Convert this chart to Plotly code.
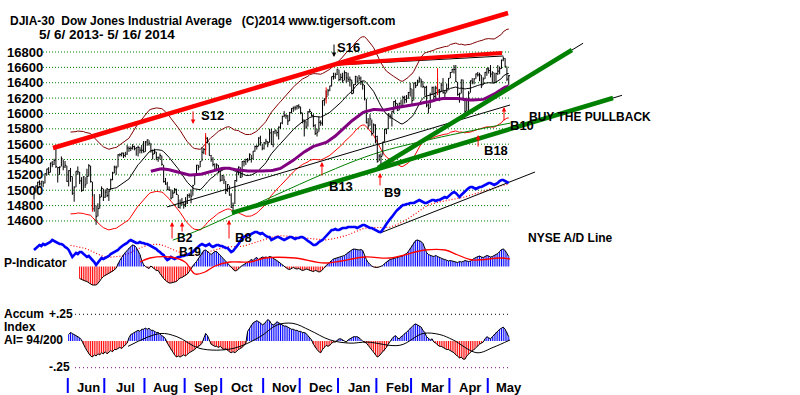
import numpy as np
import pandas as pd
import plotly.graph_objects as go

# ---------------- calendar ----------------
HOLIDAYS = ["2013-05-27", "2013-07-04", "2013-09-02", "2013-11-28", "2013-12-25",
            "2014-01-01", "2014-01-20", "2014-02-17", "2014-04-18"]
days = pd.bdate_range("2013-05-06", "2014-05-16")
days = days[~days.isin(pd.to_datetime(HOLIDAYS))]

# ---------------- DJIA daily data ----------------
close = [
    # May 2013
    14969, 15056, 15105, 15083, 15118, 15092, 15215, 15276, 15233, 15354, 15335, 15388, 15307, 15295, 15303, 15409, 15303, 15325, 15116,
    # Jun
    15254, 15178, 14961, 15041, 15248, 15239, 15122, 14995, 15176, 15070, 15180, 15318, 15112, 14758, 14799, 14660, 14760, 14910, 15024, 14910,
    # Jul
    14975, 14932, 14988, 15136, 15225, 15300, 15292, 15461, 15464, 15484, 15452, 15471, 15549, 15544, 15546, 15568, 15542, 15556, 15559, 15522, 15521, 15500,
    # Aug
    15628, 15658, 15612, 15519, 15471, 15498, 15426, 15420, 15451, 15338, 15112, 15081, 15011, 15003, 14898, 14964, 15011, 14946, 14776, 14825, 14841, 14810,
    # Sep
    14834, 14931, 14937, 14923, 15063, 15191, 15327, 15301, 15376, 15495, 15530, 15677, 15637, 15451, 15401, 15335, 15273, 15328, 15258, 15130,
    # Oct
    15192, 15133, 14996, 15073, 14936, 14777, 14803, 15126, 15237, 15301, 15168, 15374, 15372, 15400, 15392, 15468, 15413, 15509, 15570, 15569, 15680, 15618, 15546,
    # Nov
    15616, 15639, 15619, 15747, 15594, 15762, 15783, 15751, 15822, 15876, 15962, 15976, 15967, 15901, 16010, 16065, 16073, 16073, 16097, 16086,
    # Dec
    16009, 15915, 15890, 15822, 16020, 16026, 15973, 15844, 15739, 15755, 15885, 15875, 16168, 16179, 16221, 16295, 16358, 16480, 16478, 16504, 16577,
    # Jan 2014
    16441, 16470, 16425, 16531, 16463, 16445, 16437, 16258, 16374, 16482, 16417, 16459, 16414, 16373, 16197, 15879, 15838, 15929, 15739, 15849, 15699,
    # Feb
    15373, 15445, 15440, 15629, 15794, 15802, 15995, 15964, 16028, 16154, 16130, 16041, 16133, 16103, 16207, 16180, 16198, 16273, 16322,
    # Mar
    16168, 16396, 16361, 16422, 16453, 16419, 16351, 16340, 16109, 16066, 16247, 16336, 16222, 16331, 16303, 16277, 16368, 16269, 16264, 16323, 16458,
    # Apr
    16533, 16573, 16573, 16413, 16246, 16256, 16437, 16170, 16027, 16173, 16263, 16425, 16409, 16449, 16514, 16502, 16501, 16361, 16449, 16535, 16581,
    # May
    16559, 16513, 16531, 16401, 16519, 16551, 16583, 16695, 16715, 16614, 16447, 16491,
]
high = [
    14980, 15060, 15110, 15130, 15120, 15120, 15220, 15280, 15300, 15360, 15380, 15410, 15540, 15300, 15310, 15440, 15400, 15380, 15320,
    15260, 15290, 15180, 15050, 15250, 15310, 15240, 15170, 15180, 15170, 15280, 15340, 15320, 15110, 14950, 14800, 14830, 14950, 15050, 15020,
    15010, 15030, 15000, 15150, 15240, 15320, 15320, 15470, 15480, 15490, 15490, 15500, 15590, 15570, 15570, 15600, 15580, 15560, 15580, 15560, 15590, 15640,
    15640, 15660, 15650, 15610, 15530, 15540, 15500, 15440, 15480, 15450, 15330, 15160, 15110, 15050, 15010, 15000, 15030, 15020, 14940, 14880, 14900, 14850,
    14910, 14950, 14960, 15010, 15070, 15200, 15330, 15330, 15380, 15560, 15550, 15710, 15690, 15620, 15460, 15430, 15350, 15350, 15330, 15260,
    15200, 15190, 15120, 15080, 15060, 14960, 14840, 15130, 15240, 15310, 15300, 15380, 15390, 15410, 15420, 15480, 15460, 15510, 15580, 15590, 15690, 15710, 15600,
    15630, 15670, 15640, 15800, 15800, 15770, 15790, 15780, 15830, 15880, 15970, 16030, 15990, 15980, 16020, 16070, 16090, 16100, 16110, 16120,
    16090, 16010, 15920, 15900, 16030, 16060, 16020, 15990, 15860, 15800, 15960, 15910, 16170, 16200, 16300, 16320, 16360, 16480, 16530, 16530, 16580,
    16570, 16520, 16530, 16560, 16540, 16530, 16480, 16440, 16380, 16490, 16480, 16500, 16480, 16420, 16370, 16190, 15940, 15990, 15920, 15870, 15860,
    15710, 15470, 15480, 15630, 15800, 15800, 16000, 15990, 16030, 16160, 16180, 16130, 16140, 16180, 16230, 16230, 16240, 16280, 16400,
    16320, 16400, 16410, 16440, 16480, 16450, 16420, 16350, 16360, 16130, 16270, 16350, 16350, 16360, 16460, 16320, 16400, 16460, 16300, 16390, 16460,
    16540, 16580, 16630, 16630, 16410, 16270, 16440, 16440, 16170, 16180, 16290, 16430, 16460, 16460, 16520, 16540, 16530, 16500, 16470, 16540, 16590,
    16600, 16630, 16550, 16530, 16530, 16630, 16610, 16700, 16740, 16720, 16610, 16500,
]
low = [
    14880, 14970, 15020, 15060, 15050, 15040, 15090, 15190, 15200, 15230, 15300, 15330, 15290, 15100, 15200, 15310, 15260, 15290, 15110,
    15050, 15110, 14940, 14850, 15040, 15200, 15080, 14980, 14990, 15030, 15080, 15180, 15100, 14750, 14720, 14550, 14660, 14760, 14910, 14860,
    14900, 14910, 14860, 15000, 15130, 15220, 15200, 15300, 15440, 15440, 15420, 15430, 15460, 15500, 15510, 15530, 15520, 15450, 15440, 15480, 15480, 15490,
    15500, 15580, 15580, 15490, 15400, 15470, 15390, 15370, 15400, 15320, 15100, 15070, 15000, 14990, 14880, 14900, 14960, 14940, 14770, 14760, 14800, 14760,
    14780, 14820, 14900, 14830, 14930, 15070, 15190, 15260, 15300, 15380, 15470, 15520, 15610, 15450, 15370, 15310, 15270, 15260, 15220, 15110,
    15120, 15080, 14950, 14980, 14930, 14770, 14720, 14820, 15110, 15200, 15160, 15170, 15310, 15330, 15360, 15390, 15360, 15400, 15500, 15530, 15570, 15580, 15520,
    15530, 15600, 15560, 15620, 15590, 15560, 15730, 15700, 15660, 15800, 15860, 15950, 15930, 15850, 15900, 16000, 16020, 16040, 16050, 16060,
    15990, 15870, 15700, 15800, 15830, 16010, 15960, 15820, 15720, 15700, 15760, 15840, 15840, 16100, 16190, 16230, 16290, 16350, 16440, 16450, 16500,
    16420, 16430, 16400, 16430, 16400, 16410, 16350, 16250, 16260, 16370, 16390, 16420, 16370, 16310, 16170, 15870, 15800, 15840, 15710, 15740, 15610,
    15360, 15380, 15340, 15450, 15630, 15730, 15800, 15930, 15830, 16000, 16070, 16030, 16040, 16100, 16100, 16130, 16140, 16190, 16220,
    16120, 16170, 16330, 16360, 16400, 16340, 16330, 16230, 16080, 16000, 16070, 16240, 16160, 16190, 16280, 16160, 16280, 16260, 16200, 16270, 16320,
    16460, 16530, 16520, 16410, 16230, 16140, 16260, 16170, 16000, 16030, 16020, 16270, 16380, 16380, 16450, 16480, 16420, 16330, 16370, 16450, 16490,
    16520, 16470, 16400, 16400, 16400, 16500, 16510, 16580, 16680, 16600, 16420, 16370,
]

# NYSE A/D line (relative units)
ad_line = [
    0, 2, 4, 5, 4, 6, 5, 6, 7, 8,
    10, 9, 8, 7, 6, 6, 5, 3, 2, 0,
    -4, -7, -5, -3, -4, -2, -2, -4, -6, -7,
    -6, -8, -9, -12, -15, -13, -10, -8, -9, -8,
    -7, -6, -4, -3, -2, -1, 0, 2, 4, 5,
    6, 7, 9, 10, 9, 8, 7, 7, 8, 7,
    7, 6, 6, 5, 4, 3, 2, 1, -1, -2,
    -4, -5, -8, -10, -9, -7, -8, -9, -8, -7,
    -7, -6, -6, -5, -5, -4, -3, -2, 0, 2,
    4, 5, 6, 5, 4, 5, 6, 4, 3, 4,
    5, 5, 4, 4, 3, 2, 2, 0, -2, -1,
    1, 3, 6, 9, 12, 13, 14, 15, 15, 16,
    17, 18, 18, 17, 16, 17, 15, 14, 13, 13,
    10, 11, 12, 13, 13, 12, 11, 10, 11, 12,
    13, 13, 12, 11, 12, 12, 13, 13, 12, 10,
    9, 8, 6, 5, 5, 6, 8, 9, 10, 12,
    14, 16, 18, 20, 20, 21, 20, 20, 21, 22,
    22, 22, 23, 23, 23, 23, 23, 22, 23, 24,
    25, 25, 24, 23, 22, 22, 21, 20, 19, 18,
    18, 20, 23, 26, 29, 31, 33, 36, 38, 40,
    42, 44, 45, 45, 46, 46, 47, 47, 47, 48,
    49, 50, 49, 48, 47, 47, 48, 49, 50, 50,
    49, 50, 50, 51, 52, 53, 52, 54, 56, 57,
    58, 57, 55, 53, 55, 57, 58, 60, 62, 63,
    63, 62, 61, 62, 63, 63, 64, 65, 66, 67,
    67, 66, 65, 66, 67, 69, 70, 70, 69, 68,
    67,
]

# P-Indicator (starts at trading day 25)
p_start = 25
p_ind = [
    -120, -130, -140, -145, -150, -165, -175, -185, -185, -185, -170, -140, -120, -100, -90, -80, -70, -60, -50, -35, -15,
    30, 60, 90, 120, 140, 160, 185, 200, 215, 210, 190, 160, 120, 60, 20,
    0, -10, -20, 5, -15, -25, -40,
    -40, -70, -100, -120, -140, -155, -165, -165, -160, -155, -150, -130, -115, -110, -100, -90, -75, -50, -20,
    10, 30, 50, 80, 110, 140, 160, 165, 150, 130, 120, 135, 150, 150, 130, 110, 90, 70, 50, 30,
    10, -10, -30, -45, -40, -20, -5, 10, 20, 30,
    40, 55, 70, 60, 80, 90, 70, 85, 95, 90, 95, 90, 100, 95, 80, 70, 60, 45, 30, 15,
    0, -15, -25, -30, -20, -10, -20, -25, -20, -30, -40, -35, -25, -30, -40, -45, -50, -40, -45, -55, -50, -35, -15,
    10, 30, 45, 60, 75, 80, 85, 90, 95, 100, 110, 125, 140, 155, 165, 175, 175, 170, 165, 170, 160, 110,
    70, 40, 20, 5, -5, -10, -10, -5, 0, 10,
    30, 45, 60, 70, 75, 80, 80, 85, 90, 95, 105,
    120, 130, 150, 180, 210, 240, 260, 265, 255, 250, 230, 180,
    140, 120, 110, 105, 100, 110, 100, 90, 80, 75, 70, 60, 55, 60, 55,
    50, 45, 40, 50, 45, 50, 60, 55, 50, 55, 70,
    80, 90, 100, 105, 95, 90, 100, 110, 105, 95, 100, 110, 120, 130, 150, 170, 175, 160, 130, 100,
]
p_ma_day = [58, 63.5, 74.5, 82.7, 88.2, 93.6, 99.1, 107.3, 118.3, 126.5, 142.9, 159.4, 181.3, 195, 214.1, 225.1, 232.2, 239.9, 255.2, 260.7]
p_ma_val = [45, 85, 95, 45, -75, -55, 5, 45, 45, 85, 85, 35, 95, 85, 165, 165, 115, 65, 85, 75]

# Accumulation Index (starts at trading day 19)
ai_start = 19
ai = [
    .06, .08, .07, .06, .05, .04, .03, .01,
    -.03, -.06, -.09, -.12, -.14, -.15, -.13, -.14, -.12, -.13, -.11, -.12, -.10, -.12, -.10, -.09, -.10, -.08, -.08, -.07, -.06, -.07, -.05, -.04, -.02,
    .03, .06, .07, .08, .09, .10, .09, .11, .11, .12, .11, .12, .10, .10, .09, .08, .08, .06, .05, .04, .02,
    -.02, -.05, -.08, -.10, -.13, -.15, -.14, -.15, -.14, -.13, -.14, -.12, -.11, -.10, -.09, -.08, -.06, -.05, -.04, -.02,
    .03, .07, .05, .01,
    -.03, -.04, -.05, -.05, -.06, -.05, -.07, -.08, -.07, -.09, -.10, -.11, -.10, -.11, -.09, -.08, -.07, -.06, -.04, -.02,
    .09, .12, .15, .17, .18, .19, .18, .17, .15, .16, .18, .20, .19, .16, .15, .16, .18, .17, .16, .15, .14, .14, .13, .12, .11, .11, .10, .10, .09, .09, .08, .08, .07, .05, .03, .01,
    -.03, -.06, -.08, -.10, -.11, -.08, -.06, -.04, -.05, -.04, -.02, -.01, -.01,
    .01, .02, .02, .01, .00, -.01, .01, .02, .03, .04, .04, .04, .03, .01, .00, -.01, -.02,
    -.04, -.06, -.08, -.10, -.13, -.15, -.14, -.12, -.10, -.09, -.06, -.03,
    .00, .02, .04, .05, .03, .02, .04, .05, .07, .08, .10, .12, .13, .15, .16, .15, .14, .13, .10, .08, .04, .02, .01, .02, -.01,
    -.02, -.04, -.05, -.05, -.06, -.07, -.08, -.08, -.09, -.10, -.11, -.13, -.14, -.16, -.15, -.17, -.17, -.14, -.12, -.10, -.09, -.08, -.06, -.05, -.03, -.02, -.01,
    .02, .04, .03, .02, .04, .06, .08, .09, .11, .12, .13, .11, .08, .04,
]
ai_ma_day = [51.5, 69, 78.3, 90.9, 109, 123.8, 133.1, 141.8, 151.1, 162.1, 173, 182.4, 200.4, 213, 222.3, 229.5, 242.6, 251.4, 260.7]
ai_ma_val = [-.05, .07, .04, -.07, -.07, .04, .15, .165, .10, .01, -.02, -.01, -.04, .07, .06, .01, -.11, -.06, .01]

# trend lines (trading-day index, price)
red_res_day, red_res_val = [10.4, 259.6], [15550, 17308]
red_top_day, red_top_val = [164.8, 256.3], [16644, 16787]
blk_top_day, blk_top_val = [166, 257], [16631, 16748]
grn1_day, grn1_val = [108.4, 317.1], [14704, 16201]
grn1_ext_day, grn1_ext_val = [108.4, 322], [14704, 16236]
grn2_day, grn2_val = [188.4, 294.6], [15290, 16826]
grn2_ext_day, grn2_ext_val = [188.4, 300.7], [15290, 16914]
blk_long_day, blk_long_val = [72.8, 260.7], [14782, 16110]
grn_thin_day, grn_thin_val = [76, 88, 181, 215, 261], [14350, 14460, 15430, 15650, 15875]
ad_trend_day, ad_trend_val = [189.5, 274.4], [17, 78]

red_mark_day = [32, 94, 160, 221]
red_mark_lo = [14720, 15460, 16130, 16240]
red_mark_hi = [14920, 15745, 16340, 16590]

price_levels = [14600, 14800, 15000, 15200, 15400, 15600, 15800, 16000, 16200, 16400, 16600, 16800]
month_names = ["Jun", "Jul", "Aug", "Sep", "Oct", "Nov", "Dec", "Jan", "Feb", "Mar", "Apr", "May"]
month_keys = [(2013, 6), (2013, 7), (2013, 8), (2013, 9), (2013, 10), (2013, 11), (2013, 12),
              (2014, 1), (2014, 2), (2014, 3), (2014, 4), (2014, 5)]

# signals: name, tip day, tip price, tail px (+ = below), label day, label price, colour, font size
signals = [
    ("S16", 164.3, 16735, -14, 172.5, 16865, "black", 13),
    ("S12", 87.1, 15863, -14, 97.5, 15967, "red", 13),
    ("B13", 157.7, 15368, 15, 168.1, 15055, "red", 13),
    ("B9", 189.5, 15225, 14, 196.6, 14977, "red", 13),
    ("B18", 243.2, 15719, 13, 253.0, 15524, "red", 13),
    ("B10", 257.4, 16084, 15, 267.2, 15849, "red", 13),
    ("B2", 75.6, 14586, 18, 82.7, 14378, "red", 12),
    ("B19", 81.1, 14586, 11, 85.4, 14195, "red", 12),
    ("B8", 106.8, 14612, 20, 114.5, 14391, "red", 13),
]

n = len(days)
assert len(close) == n and len(high) == n and len(low) == n and len(ad_line) == n
assert p_start + len(p_ind) == n and ai_start + len(ai) == n
idx = np.arange(n)

# ---------------- derived averages ----------------
cs = pd.Series(close, dtype=float)
ma21 = cs.rolling(21).mean()
ma65 = cs.rolling(65).mean()
ma21_disp = ma21.where(idx >= 40)
up_band = ma21 * 1.035
lo_band = ma21 * 0.965
ad_ma = pd.Series(ad_line, dtype=float).rolling(21).mean()

# ---------------- pixel geometry ----------------
W, H = 800, 395
X0, DX = 34.0, 1.826           # px of day 0, px per trading day
def px_to_day(px):
    return (px - X0) / DX
XR = [px_to_day(0), px_to_day(W)]
P_TOP, P_SCALE = 52, 0.0768
YR_PRICE = [16800 - (H - P_TOP) / P_SCALE, 16800 + P_TOP / P_SCALE]
YR_AD = [250 - H, 250]
YR_P = [-(H - 266.5) * 10, 266.5 * 10]
AI_ZERO, AI_PX = 341.0, 106.8
YR_AI = [-(H - AI_ZERO) / AI_PX, AI_ZERO / AI_PX]

def py(px):
    return 1 - px / H

def pxx(px):
    return px / W

FONT = "Liberation Sans, Arial, sans-serif"
BLUE = "rgb(0,0,255)"
RED = "rgb(255,0,0)"

def hatch(days_, vals, sign):
    xs, ys = [], []
    for d, v in zip(days_, vals):
        if (v > 0 and sign > 0) or (v < 0 and sign < 0):
            xs += [d, d, None]
            ys += [0, v, None]
    return xs, ys

fig = go.Figure()

# gridlines
for lv in price_levels:
    fig.add_trace(go.Scatter(x=[px_to_day(43), px_to_day(510)], y=[lv, lv], mode="lines",
                             line=dict(color="rgb(0,128,0)", width=1, dash="1px,2px"),
                             hoverinfo="skip"))
for lv, col in [(0.25, "black"), (-0.25, "rgb(128,0,128)")]:
    fig.add_trace(go.Scatter(x=[px_to_day(75), px_to_day(510)], y=[lv, lv], mode="lines", yaxis="y4",
                             line=dict(color=col, width=1, dash="1px,3px"), hoverinfo="skip"))

# A/D line
fig.add_trace(go.Scatter(x=idx, y=ad_ma, mode="lines", yaxis="y2",
                         line=dict(color="red", width=1.2, dash="1px,2px")))
fig.add_trace(go.Scatter(x=ad_trend_day, y=ad_trend_val, mode="lines", yaxis="y2",
                         line=dict(color="black", width=1)))
fig.add_trace(go.Scatter(x=idx, y=ad_line, mode="lines", yaxis="y2",
                         line=dict(color=BLUE, width=2.6)))

# P-Indicator (hatched histogram)
p_days = idx[p_start:]
for sgn, col in [(1, BLUE), (-1, RED)]:
    hx, hy = hatch(p_days, p_ind, sgn)
    fig.add_trace(go.Scatter(x=hx, y=hy, mode="lines", yaxis="y3", line=dict(color=col, width=1)))
fig.add_trace(go.Scatter(x=p_days, y=p_ind, mode="lines", yaxis="y3",
                         line=dict(color="black", width=1)))
fig.add_trace(go.Scatter(x=p_ma_day, y=p_ma_val, mode="lines", yaxis="y3",
                         line=dict(color="red", width=1.3, shape="spline")))

# Accumulation index (hatched histogram)
a_days = idx[ai_start:]
for sgn, col in [(1, BLUE), (-1, RED)]:
    hx, hy = hatch(a_days, ai, sgn)
    fig.add_trace(go.Scatter(x=hx, y=hy, mode="lines", yaxis="y4", line=dict(color=col, width=1)))
fig.add_trace(go.Scatter(x=a_days, y=ai, mode="lines", yaxis="y4",
                         line=dict(color="black", width=1)))
fig.add_trace(go.Scatter(x=ai_ma_day, y=ai_ma_val, mode="lines", yaxis="y4",
                         line=dict(color="black", width=1, shape="spline")))

# price-panel thin lines
fig.add_trace(go.Scatter(x=idx, y=up_band, mode="lines", line=dict(color="rgb(128,0,0)", width=1)))
fig.add_trace(go.Scatter(x=idx, y=lo_band, mode="lines", line=dict(color="red", width=1)))
fig.add_trace(go.Scatter(x=idx, y=ma21_disp, mode="lines", line=dict(color="black", width=1)))
fig.add_trace(go.Scatter(x=blk_long_day, y=blk_long_val, mode="lines", line=dict(color="black", width=1)))
fig.add_trace(go.Scatter(x=grn_thin_day, y=grn_thin_val, mode="lines",
                         line=dict(color="rgb(0,128,0)", width=1, shape="spline")))
fig.add_trace(go.Scatter(x=blk_top_day, y=blk_top_val, mode="lines", line=dict(color="black", width=1)))
fig.add_trace(go.Scatter(x=grn1_ext_day, y=grn1_ext_val, mode="lines", line=dict(color="black", width=1)))
fig.add_trace(go.Scatter(x=grn2_ext_day, y=grn2_ext_val, mode="lines", line=dict(color="black", width=1)))

# price bars
bx, by, tx, ty = [], [], [], []
for i in idx:
    bx += [i, i, None]
    by += [low[i], high[i], None]
    tx += [i, i + 0.7, None]
    ty += [close[i], close[i], None]
fig.add_trace(go.Scatter(x=bx, y=by, mode="lines", line=dict(color="black", width=1)))
fig.add_trace(go.Scatter(x=tx, y=ty, mode="lines", line=dict(color="black", width=1)))
rx, ry = [], []
for d, lo_, hi_ in zip(red_mark_day, red_mark_lo, red_mark_hi):
    rx += [d, d, None]
    ry += [lo_, hi_, None]
fig.add_trace(go.Scatter(x=rx, y=ry, mode="lines", line=dict(color="red", width=1)))

# 65-day MA
fig.add_trace(go.Scatter(x=idx, y=ma65, mode="lines", line=dict(color="rgb(128,0,128)", width=3)))

# thick trend lines
fig.add_trace(go.Scatter(x=red_res_day, y=red_res_val, mode="lines", line=dict(color="red", width=4.5)))
fig.add_trace(go.Scatter(x=red_top_day, y=red_top_val, mode="lines", line=dict(color="red", width=4)))
fig.add_trace(go.Scatter(x=grn1_day, y=grn1_val, mode="lines", line=dict(color="rgb(0,128,0)", width=4.5)))
fig.add_trace(go.Scatter(x=grn2_day, y=grn2_val, mode="lines", line=dict(color="rgb(0,128,0)", width=4.5)))

ann = []
bold = dict(family=FONT, size=13, color="black", weight="bold")
for lv in price_levels:
    ann.append(dict(x=pxx(5), xref="paper", y=lv, yref="y", text=str(lv), showarrow=False,
                    xanchor="left", yanchor="middle", font=bold))
for name, td, tv, tail, ld, lvv, col, fs in signals:
    ann.append(dict(x=td, y=tv, xref="x", yref="y", ax=0, ay=tail, text="", showarrow=True,
                    arrowhead=2, arrowsize=0.9, arrowwidth=1, arrowcolor=col))
    ann.append(dict(x=ld, y=lvv, xref="x", yref="y", text=name, showarrow=False,
                    xanchor="center", yanchor="middle",
                    font=dict(family=FONT, size=fs, color="black", weight="bold")))
NB = "\u00a0"
texts = [
    ("DJIA-30" + NB * 2 + "Dow Jones Industrial Average" + NB * 3 + "(C)2014 www.tigersoft.com", 8, 21, "left", 12),
    ("5/" + NB + "6/" + NB + "2013-" + NB + "5/" + NB + "16/" + NB + "2014", 37, 34, "left", 13.5),
    ("BUY THE PULLBACK", 590, 117, "center", 12),
    ("NYSE A/D Line", 570, 238, "center", 12),
    ("P-Indicator", 2, 263, "left", 12),
    ("Accum", 2, 314, "left", 12),
    ("Index", 2, 327, "left", 12),
    ("AI=" + NB + "94/200", 2, 340, "left", 12),
    ("+.25", 47, 314, "left", 12),
    ("-.25", 47, 367, "left", 12),
]
for t, x, y, anc, sz in texts:
    ann.append(dict(x=pxx(x), y=py(y), xref="paper", yref="paper", text=t, showarrow=False,
                    xanchor=anc, yanchor="middle",
                    font=dict(family=FONT, size=sz, color="black", weight="bold")))

shapes = []
for name, (yy, mm) in zip(month_names, month_keys):
    first = int(np.where((days.year == yy) & (days.month == mm))[0][0])
    shapes.append(dict(type="line", xref="x", yref="paper", x0=first - 0.5, x1=first - 0.5,
                       y0=py(393), y1=py(378), line=dict(color=BLUE, width=2)))
    ann.append(dict(x=first + 11, y=py(387), xref="x", yref="paper", text=name, showarrow=False,
                    xanchor="center", yanchor="middle",
                    font=dict(family=FONT, size=13, color="black", weight="bold")))

fig.update_layout(
    width=W, height=H, margin=dict(l=0, r=0, t=0, b=0),
    paper_bgcolor="white", plot_bgcolor="white", showlegend=False,
    xaxis=dict(range=XR, visible=False, fixedrange=True),
    yaxis=dict(range=YR_PRICE, visible=False),
    yaxis2=dict(range=YR_AD, overlaying="y", visible=False),
    yaxis3=dict(range=YR_P, overlaying="y", visible=False),
    yaxis4=dict(range=YR_AI, overlaying="y", visible=False),
    annotations=ann, shapes=shapes,
)

fig.write_html("out.html", config={"displayModeBar": False},
               post_script="document.body.style.margin='0px';document.body.style.overflow='hidden';")
